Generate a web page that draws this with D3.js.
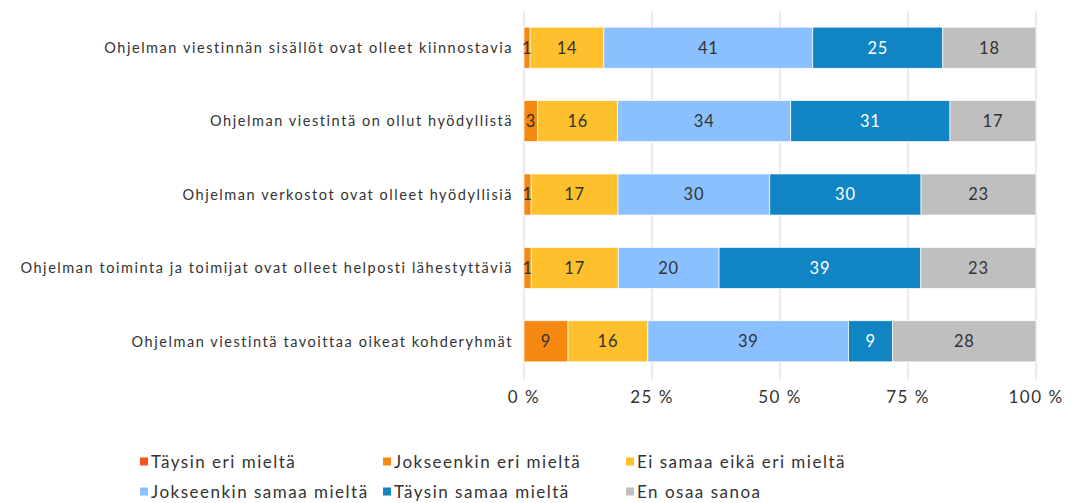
<!DOCTYPE html>
<html lang="fi">
<head>
<meta charset="utf-8">
<title>Ohjelman viestintä</title>
<script src="https://d3js.org/d3.v7.min.js"></script>
<style>
  body { margin: 0; background: #fff; }
  text { font-family: Lato, "Open Sans", sans-serif; }
</style>
</head>
<body>
<div id="chart"></div>
<script>
// data (percent)
var statements = [
  "Ohjelman viestinnän sisällöt ovat olleet kiinnostavia",
  "Ohjelman viestintä on ollut hyödyllistä",
  "Ohjelman verkostot ovat olleet hyödyllisiä",
  "Ohjelman toiminta ja toimijat ovat olleet helposti lähestyttäviä",
  "Ohjelman viestintä tavoittaa oikeat kohderyhmät"
];
var seriesNames = [
  "Täysin eri mieltä",
  "Jokseenkin eri mieltä",
  "Ei samaa eikä eri mieltä",
  "Jokseenkin samaa mieltä",
  "Täysin samaa mieltä",
  "En osaa sanoa"
];
var taysinEri     = [0, 0, 0, 0, 0];
var jokseenkinEri = [1.2, 2.7, 1.4, 1.4, 8.6];
var eiSamaa       = [14.4, 15.6, 17.0, 17.0, 15.6];
var jokseenkinSam = [40.8, 33.8, 29.7, 19.7, 39.2];
var taysinSamaa   = [25.4, 31.1, 29.6, 39.4, 8.6];
var enOsaa        = [18.2, 16.8, 22.5, 22.5, 28.0];
var ticks = [0, 25, 50, 75, 100];

var colors = ["#F4511E", "#F5880F", "#FEC02C", "#8AC0FF", "#1184C3", "#BFBFBF"];

var table = statements.map(function(s, i) {
  return {
    name: s,
    v0: taysinEri[i], v1: jokseenkinEri[i], v2: eiSamaa[i],
    v3: jokseenkinSam[i], v4: taysinSamaa[i], v5: enOsaa[i]
  };
});
var keys = ["v0", "v1", "v2", "v3", "v4", "v5"];

var w = 1072, h = 503;
var margin = {top: 11, left: 524, right: 36, bottom: 124};

var svg = d3.select("#chart").append("svg")
  .attr("width", w).attr("height", h);

var x = d3.scaleLinear().domain([0, 100]).range([margin.left, w - margin.right]);
var y = d3.scaleBand().domain(statements)
  .range([margin.top, h - margin.bottom - 1])
  .paddingInner(0.44).paddingOuter(0.22);

// grid
svg.append("g").selectAll("line").data(ticks).enter().append("line")
  .attr("x1", d => x(d)).attr("x2", d => x(d))
  .attr("y1", margin.top).attr("y2", h - margin.bottom)
  .attr("stroke", "#d9d9d9").attr("stroke-width", 1);

var stack = d3.stack().keys(keys);
var layers = stack(table.map(function(d) {
  var t = d3.sum(keys, k => d[k]);
  var o = {name: d.name};
  keys.forEach(k => o[k] = d[k] / t * 100);
  o.raw = d;
  return o;
}));

var g = svg.append("g").selectAll("g").data(layers).enter().append("g")
  .attr("fill", (d, i) => colors[i]);

g.selectAll("rect").data(d => d.filter(p => p[1] - p[0] > 0)).enter().append("rect")
  .attr("x", d => x(d[0]))
  .attr("width", d => x(d[1]) - x(d[0]))
  .attr("y", d => y(d.data.name))
  .attr("height", y.bandwidth())
  .attr("stroke", "#fff").attr("stroke-width", 0.7);

// value labels
layers.forEach(function(layer, li) {
  svg.append("g").selectAll("text")
    .data(layer.filter(p => p[1] - p[0] > 0))
    .enter().append("text")
    .attr("x", d => (x(d[0]) + x(d[1])) / 2)
    .attr("y", d => y(d.data.name) + y.bandwidth() / 2)
    .attr("dy", "0.36em")
    .attr("text-anchor", "middle")
    .attr("font-size", 16.5)
    .attr("letter-spacing", 0.8)
    .attr("fill", li == 4 ? "#fff" : "#333")
    .text(d => Math.round(d.data.raw[keys[li]]));
});

// category labels
svg.append("g").selectAll("text").data(statements).enter().append("text")
  .attr("x", margin.left - 11)
  .attr("y", d => y(d) + y.bandwidth() / 2)
  .attr("dy", "0.36em")
  .attr("text-anchor", "end")
  .attr("font-size", 14.5)
  .attr("letter-spacing", 1.55)
  .attr("fill", "#333")
  .text(d => d);

// x axis labels
svg.append("g").selectAll("text").data(ticks).enter().append("text")
  .attr("x", d => x(d))
  .attr("y", 397)
  .attr("dy", "0.36em")
  .attr("text-anchor", "middle")
  .attr("font-size", 17)
  .attr("letter-spacing", 1.5)
  .attr("fill", "#333")
  .text(d => d + " %");

// legend
var legX = [140, 383, 626], legY = [462, 492];
var leg = svg.append("g").selectAll("g").data(seriesNames).enter().append("g")
  .attr("transform", (d, i) => `translate(${legX[i % 3]}, ${legY[Math.floor(i / 3)]})`);
leg.append("rect")
  .attr("x", 0).attr("y", -4.5).attr("width", 8).attr("height", 8)
  .attr("fill", (d, i) => colors[i]);
leg.append("text")
  .attr("x", 11).attr("dy", "0.36em")
  .attr("font-size", 17).attr("letter-spacing", 1.5)
  .attr("fill", "#333")
  .text(d => d);
</script>
</body>
</html>
